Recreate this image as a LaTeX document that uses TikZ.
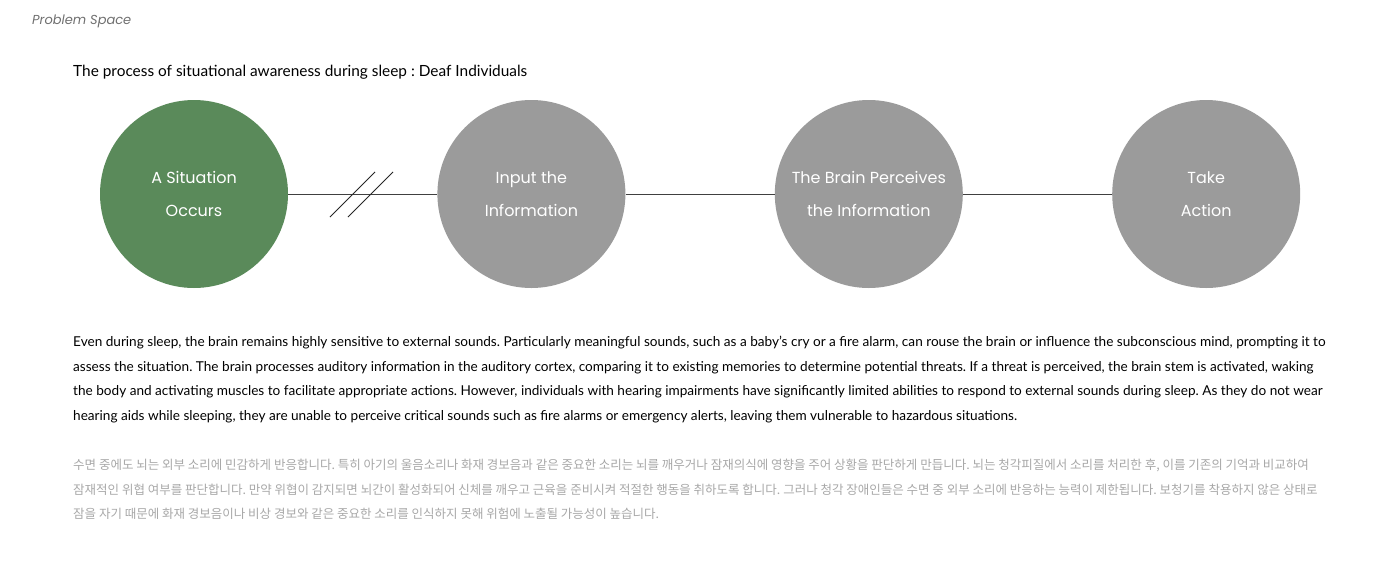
\documentclass[tikz,border=0pt]{standalone}
\usepackage{fontspec}
\usepackage{xcolor}
\usetikzlibrary{positioning}
\setmainfont{Lato}
\newfontfamily\circfont{Poppins}
\newfontfamily\krfont{Noto Sans CJK KR}
\definecolor{sitgreen}{HTML}{5A8A5A}
\definecolor{stepgrey}{HTML}{9B9B9B}
\definecolor{krgrey}{HTML}{A8A8A8}
\definecolor{capgrey}{HTML}{707070}
\frenchspacing

\begin{document}
\begin{tikzpicture}[
  x=1pt, y=-1pt,
  node distance=149pt,
  stage/.style={circle, draw=none, fill=stepgrey, minimum size=188pt, inner sep=0pt, align=center, text=white, font=\circfont\fontsize{16}{33}\selectfont},
  link/.style={draw=black!75, line width=0.9pt},
  cut/.style={draw=black!85, line width=0.8pt}
]
\useasboundingbox[fill=white] (0,0) rectangle (1400,560);
\node[anchor=west, text=capgrey, font=\circfont\itshape\fontsize{13}{16}\selectfont, inner sep=0pt] (space) at (32,21) {Problem Space};
\node[anchor=west, font=\fontsize{15.4}{17}\selectfont, inner sep=0pt] (title) at (73,72) {The process of situational awareness during sleep : Deaf Individuals};

% process circles
\node[stage, fill=sitgreen] (sit) at (194,194) {A Situation\\Occurs};
\node[stage, right=of sit] (inp) {Input the\\Information};
\node[stage, right=of inp] (brain) {The Brain Perceives\\the Information};
\node[stage, right=of brain] (act) {Take\\Action};
\draw[link] (sit) -- (inp);
\draw[link] (inp) -- (brain);
\draw[link] (brain) -- (act);
% break in the first link
\coordinate (c1a) at (330,217); \coordinate (c1b) at (375,172);
\coordinate (c2a) at (348,217); \coordinate (c2b) at (393,172);
\draw[cut] (c1a) -- (c1b);
\draw[cut] (c2a) -- (c2b);

% text below
\node[anchor=north west, align=left, inner sep=0pt, font=\fontsize{13.6}{24.5}\selectfont] (en) at (73,336)
  {Even during sleep, the brain remains highly sensitive to external sounds. Particularly meaningful sounds, such as a baby's cry or a fire alarm, can rouse the brain or influence the subconscious mind, prompting it to\\
   assess the situation. The brain processes auditory information in the auditory cortex, comparing it to existing memories to determine potential threats. If a threat is perceived, the brain stem is activated, waking\\
   the body and activating muscles to facilitate appropriate actions. However, individuals with hearing impairments have significantly limited abilities to respond to external sounds during sleep. As they do not wear\\
   hearing aids while sleeping, they are unable to perceive critical sounds such as fire alarms or emergency alerts, leaving them vulnerable to hazardous situations.};
\node[anchor=north west, align=left, inner sep=0pt, text=krgrey, font=\krfont\fontsize{12.5}{24.5}\selectfont] (kr) at (73,459)
  {수면 중에도 뇌는 외부 소리에 민감하게 반응합니다. 특히 아기의 울음소리나 화재 경보음과 같은 중요한 소리는 뇌를 깨우거나 잠재의식에 영향을 주어 상황을 판단하게 만듭니다. 뇌는 청각피질에서 소리를 처리한 후, 이를 기존의 기억과 비교하여\\
   잠재적인 위협 여부를 판단합니다. 만약 위협이 감지되면 뇌간이 활성화되어 신체를 깨우고 근육을 준비시켜 적절한 행동을 취하도록 합니다. 그러나 청각 장애인들은 수면 중 외부 소리에 반응하는 능력이 제한됩니다. 보청기를 착용하지 않은 상태로\\
   잠을 자기 때문에 화재 경보음이나 비상 경보와 같은 중요한 소리를 인식하지 못해 위험에 노출될 가능성이 높습니다.};
\end{tikzpicture}
\end{document}
